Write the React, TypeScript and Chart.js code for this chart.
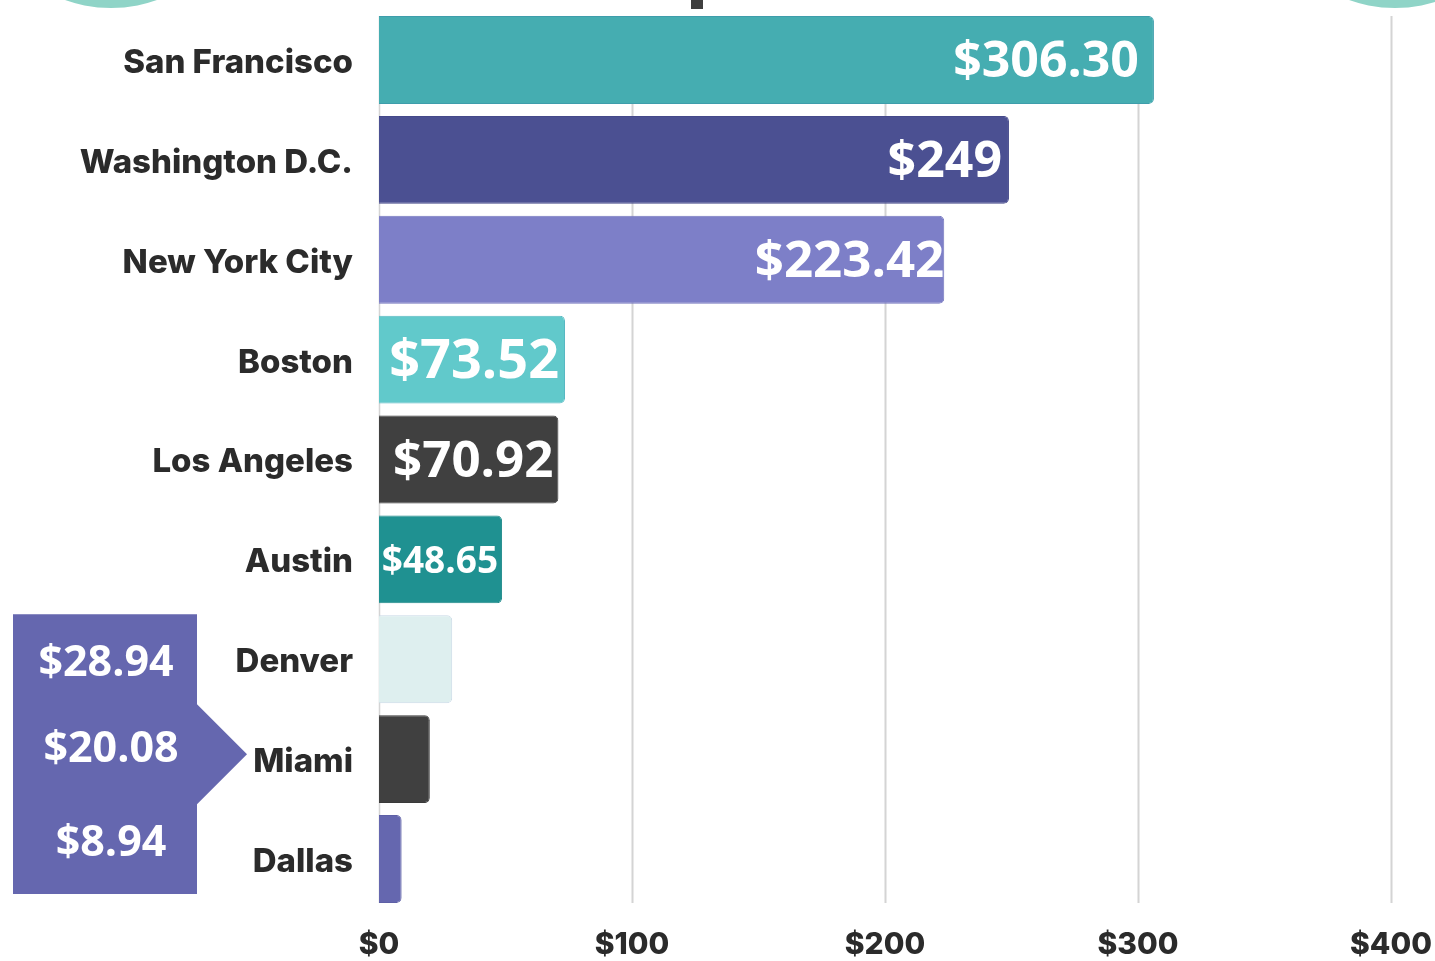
import React, { useEffect, useRef } from "react";
import { Chart, registerables } from "chart.js";

Chart.register(...registerables);

const cities = [
  "San Francisco",
  "Washington D.C.",
  "New York City",
  "Boston",
  "Los Angeles",
  "Austin",
  "Denver",
  "Miami",
  "Dallas",
];
const prices = [306.3, 249, 223.42, 73.52, 70.92, 48.65, 28.94, 20.08, 8.94];
const xTicks = [0, 100, 200, 300, 400];

const barColors = [
  "#45ADB1",
  "#4B5092",
  "#7D7FC8",
  "#61C9CB",
  "#404040",
  "#1F9191",
  "#DEEFEF",
  "#404040",
  "#6567AF",
];
const barBorders = [
  "#3E9DAB",
  "#45498A",
  "#7476BE",
  "#58B8C2",
  "#3A3A3A",
  "#1C8888",
  "#C9D9E6",
  "#3A3A3A",
  "#5E60A6",
];
// styling for in-bar value labels (first six bars); the last three go in the callout
const insideLabelSizes = [50, 50, 51, 54, 51, 37];
const insideLabelPads = [15, 7, 0, 6, 5, 4];
const calloutColor = "#6567AF";
const axisFont = "Inter";

const fmt = (v: number) =>
  "$" + (Number.isInteger(v) ? String(v) : v.toFixed(2));

export default function App() {
  const ref = useRef<HTMLCanvasElement | null>(null);

  useEffect(() => {
    if (!ref.current) return;

    const decorPlugin = {
      id: "decor",
      beforeDraw(chart: any) {
        const ctx = chart.ctx;
        ctx.save();
        ctx.fillStyle = "#FFFFFF";
        ctx.fillRect(0, 0, chart.width, chart.height);
        ctx.fillStyle = "#8FD4C7";
        ctx.beginPath();
        ctx.arc(111, -128, 136, 0, Math.PI * 2);
        ctx.fill();
        ctx.beginPath();
        ctx.arc(1395, -128, 136, 0, Math.PI * 2);
        ctx.fill();
        ctx.fillStyle = "#3F3F3F";
        ctx.fillRect(691, 0, 12, 9);
        ctx.restore();
      },
    };

    const gridPlugin = {
      id: "customGrid",
      beforeDatasetsDraw(chart: any) {
        const ctx = chart.ctx;
        const meta = chart.getDatasetMeta(0);
        const first = meta.data[0];
        const last = meta.data[meta.data.length - 1];
        const top = first.y - first.height / 2;
        const bottom = last.y + last.height / 2;
        const xs = chart.scales.x;
        ctx.save();
        xTicks.forEach((t) => {
          const x = Math.round(xs.getPixelForValue(t)) + 0.5;
          ctx.strokeStyle = "#D4D4D4";
          ctx.lineWidth = t === 0 ? 1.5 : 2;
          ctx.beginPath();
          ctx.moveTo(x, top);
          ctx.lineTo(x, bottom);
          ctx.stroke();
        });
        ctx.restore();
      },
    };

    const labelPlugin = {
      id: "valueLabels",
      afterDatasetsDraw(chart: any) {
        const ctx = chart.ctx;
        const meta = chart.getDatasetMeta(0);
        ctx.save();
        ctx.fillStyle = "#FFFFFF";
        ctx.textAlign = "right";
        ctx.textBaseline = "middle";
        insideLabelSizes.forEach((size, i) => {
          const bar = meta.data[i];
          ctx.font = `700 ${size}px "Open Sans"`;
          ctx.fillText(fmt(prices[i]), bar.x - insideLabelPads[i], bar.y + 3);
        });
        ctx.restore();
      },
      afterDraw(chart: any) {
        const ctx = chart.ctx;
        const meta = chart.getDatasetMeta(0);
        const n = prices.length;
        const a = meta.data[n - 3];
        const b = meta.data[n - 2];
        const c = meta.data[n - 1];
        const top = a.y - a.height / 2 - 1;
        const bottom = c.y + c.height / 2 - 9;
        ctx.save();
        ctx.fillStyle = calloutColor;
        ctx.beginPath();
        ctx.moveTo(13, top);
        ctx.lineTo(197, top);
        ctx.lineTo(197, b.y - 55);
        ctx.lineTo(247, b.y - 5);
        ctx.lineTo(197, b.y + 45);
        ctx.lineTo(197, bottom);
        ctx.lineTo(13, bottom);
        ctx.closePath();
        ctx.fill();
        ctx.fillStyle = "#FFFFFF";
        ctx.textAlign = "center";
        ctx.textBaseline = "middle";
        ctx.font = `700 43px "Open Sans"`;
        ctx.fillText(fmt(prices[n - 3]), 106, a.y + 4);
        ctx.fillText(fmt(prices[n - 2]), 111, b.y - 9);
        ctx.fillText(fmt(prices[n - 1]), 111, c.y - 15);
        ctx.restore();
      },
    };

    const chart = new Chart(ref.current, {
      type: "bar",
      data: {
        labels: cities,
        datasets: [
          {
            data: prices,
            backgroundColor: barColors,
            borderColor: barBorders,
            borderWidth: 1,
            borderRadius: 5,
            borderSkipped: "start",
            barPercentage: 0.88,
            categoryPercentage: 1,
          },
        ],
      },
      options: {
        indexAxis: "y",
        animation: false,
        responsive: false,
        maintainAspectRatio: false,
        layout: { padding: { top: 10, right: 44, bottom: 0, left: 0 } },
        plugins: {
          legend: { display: false },
          tooltip: { enabled: false },
        },
        scales: {
          x: {
            min: 0,
            max: 400,
            afterBuildTicks: (s: any) => {
              s.ticks = xTicks.map((v) => ({ value: v }));
            },
            afterFit: (s: any) => {
              s.height = 52;
              s.paddingLeft = 0;
              s.paddingRight = 0;
            },
            ticks: {
              callback: (v: any) => "$" + v,
              color: "#2B2B2B",
              font: { family: axisFont, weight: "800", size: 30 },
              padding: 18,
              maxRotation: 0,
            },
            grid: { display: false, drawTicks: false },
            border: { display: false },
          },
          y: {
            afterFit: (s: any) => {
              s.width = 379;
              s.paddingTop = 0;
              s.paddingBottom = 0;
            },
            ticks: {
              color: "#2B2B2B",
              font: { family: axisFont, weight: "800", size: 33 },
              padding: 26,
              labelOffset: 3,
            },
            grid: { display: false, drawTicks: false },
            border: { display: false },
          },
        },
      },
      plugins: [decorPlugin, gridPlugin, labelPlugin],
    } as any);

    return () => chart.destroy();
  }, []);

  return (
    <div style={{ position: "absolute", left: 0, top: 0, width: 1435, height: 961 }}>
      <canvas ref={ref} width={1435} height={961} style={{ display: "block" }} />
    </div>
  );
}
